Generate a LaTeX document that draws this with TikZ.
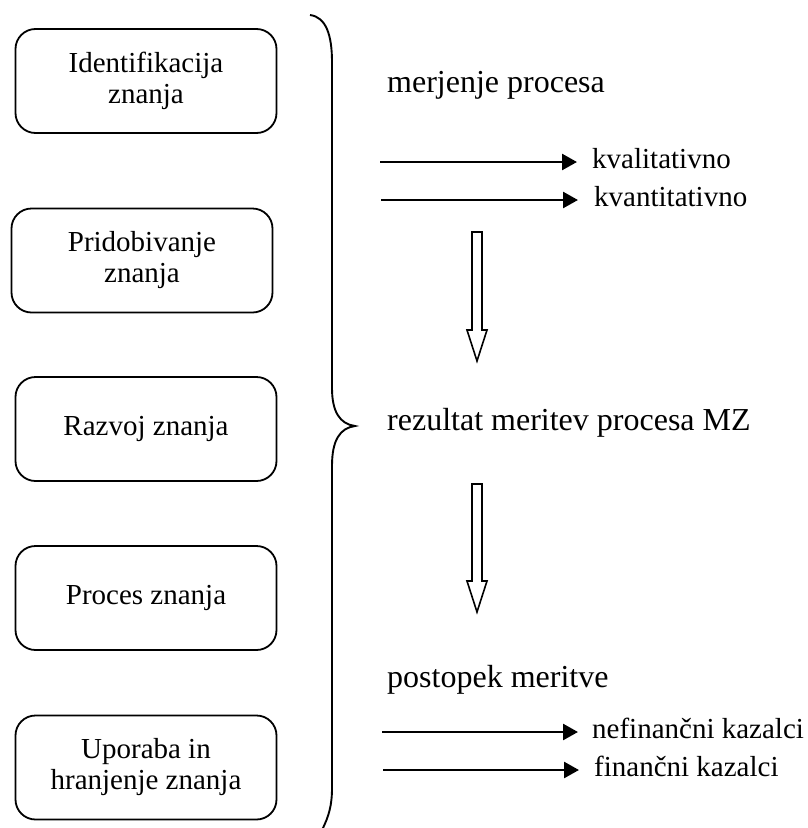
\documentclass[tikz,border=0pt]{standalone}
\usepackage{fontspec}
\setmainfont{Liberation Serif}
\usetikzlibrary{arrows.meta,calc}
\begin{document}
\begin{tikzpicture}[x=1pt,y=-1pt,
  kbox/.style={draw,line width=1.8pt,rounded corners=20pt,minimum width=261pt,
    minimum height=104pt,align=center,inner sep=0pt,
    font=\fontsize{29}{31}\selectfont},
  head/.style={anchor=base west,inner sep=0pt,font=\fontsize{32}{36}\selectfont},
  lbl/.style={anchor=base west,inner sep=0pt,font=\fontsize{29}{33}\selectfont},
  arr/.style={line width=2.6pt,-{Triangle[length=15pt,width=16pt]}},
  hollow/.style={draw,line width=1.6pt,fill=white,line join=miter},
  brace/.style={draw,line width=1.9pt}]
\useasboundingbox (0,0) rectangle (807,828);

% the five phases of knowledge management
\node[kbox] (ident) at (146,81)    {Identifikacija\\znanja};
\node[kbox] (prid)  at (142,260.5) {Pridobivanje\\znanja};
\node[kbox] (razv)  at (146,429)   {Razvoj znanja};
\node[kbox] (proc)  at (146,598)   {Proces znanja};
\node[kbox] (upor)  at (146,767.5) {Uporaba in\\hranjenje znanja};

% curly brace gathering the phases
\path[brace] (310,15) .. controls (326,17) and (332,35) .. (332,62)
  -- (332,388) .. controls (332,412) and (340,424) .. (355,426)
  .. controls (340,428) and (332,440) .. (332,466)
  -- (332,788) .. controls (332,805) and (329,816) .. (322,830);

% headings
\node[head] (merj) at (387,92)  {merjenje procesa};
\node[head] (rez)  at (387,430) {rezultat meritev procesa MZ};
\node[head] (post) at (387,687) {postopek meritve};

% measured kinds
\node[lbl] (kval)  at (592,168) {kvalitativno};
\node[lbl] (kvan)  at (594,206) {kvantitativno};
\node[lbl] (nefin) at (592,738) {nefinančni kazalci};
\node[lbl] (fin)   at (594,776) {finančni kazalci};

\coordinate (s1) at (380,162);
\coordinate (s2) at (381,200);
\coordinate (s3) at (382,732);
\coordinate (s4) at (383,770);
\draw[arr] (s1) -- ($(s1 -| kval.west)+(-15,0)$);
\draw[arr] (s2) -- ($(s2 -| kvan.west)+(-16,0)$);
\draw[arr] (s3) -- ($(s3 -| nefin.west)+(-14,0)$);
\draw[arr] (s4) -- ($(s4 -| fin.west)+(-15,0)$);

% hollow block arrows between the stages
\coordinate (h1top) at (477,232);
\coordinate (h1tip) at (477,361);
\coordinate (h2top) at (477,484);
\coordinate (h2tip) at (477,612);
\foreach \t/\p in {h1top/h1tip,h2top/h2tip}{
  \path[hollow] ($(\t)+(-5,0)$) -- ($(\t)+(5,0)$) -- ($(\p)+(5,-31)$)
    -- ($(\p)+(10,-31)$) -- (\p) -- ($(\p)+(-10,-31)$) -- ($(\p)+(-5,-31)$) -- cycle;
}
\end{tikzpicture}
\end{document}
